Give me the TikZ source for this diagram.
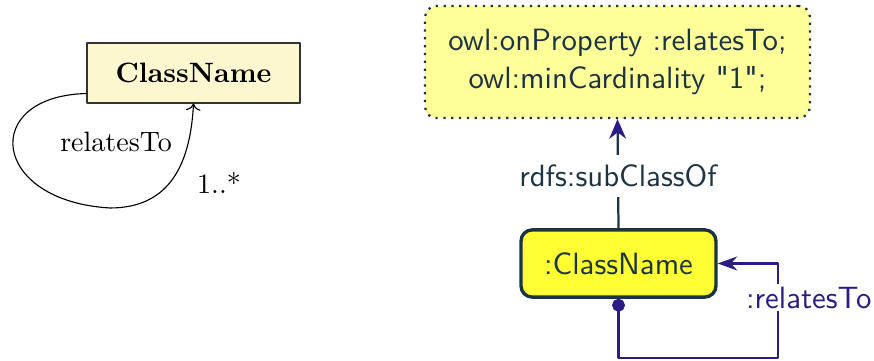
\documentclass[tikz,border=0pt]{standalone}
\usepackage{amsmath,amssymb}
\usepackage{fontspec}
\setsansfont{lmsans10-regular.otf}[Ligatures=TeXOff]
\usepackage{tikz}
\usetikzlibrary{arrows,arrows.meta,calc,positioning}
\definecolor{ink}{HTML}{1C3344}
\definecolor{rel}{HTML}{2C1A85}
\definecolor{pale}{HTML}{FDF7D0}
\definecolor{restr}{HTML}{FFFF99}
\definecolor{lemon}{HTML}{FFFF33}
\tikzset{umlcls/.style={draw=black!80,fill=pale,minimum width=76pt,minimum height=21.4pt,inner sep=0pt},
	restrbox/.style={draw=ink,dotted,thick,fill=restr,rounded corners=4pt,minimum width=137.4pt,minimum height=40pt,align=center,text=ink,font=\sffamily\fontsize{11}{13.6}\selectfont},
	clsbox/.style={draw=ink,very thick,fill=lemon,rounded corners=4pt,minimum width=69.6pt,minimum height=24pt,text=ink,font=\sffamily\fontsize{11}{13.6}\selectfont},
	lbl/.style={fill=white,font=\sffamily\fontsize{11}{13.6}\selectfont}}
\begin{document}
\begin{tikzpicture}[x=0.357pt,y=0.357pt,line join=round]
		\useasboundingbox (0,0) rectangle (874,361);
		% UML side
		\node[umlcls] (uml) at (193.5,288) {\textbf{ClassName}};
		\coordinate (U0) at ($(uml.south west)+(0,10)$);
		\coordinate (U1) at (110,153);
		\draw[->] (U0) .. controls (-20,265) and (-10,160) .. (U1) .. controls (165,153) and (190,190) .. (uml.south);
		\node (relU) at (116,219) {relatesTo};
		\node (mult) at (219,178) {1..*};
		% RDF side
		\node[restrbox] (R) at (617.5,299) {owl:onProperty :relatesTo;\\owl:minCardinality "1";};
		\node[clsbox] (C) at (618.5,97.5) {:ClassName};
		\draw[ink,thick,-{Stealth[length=7pt,width=6pt,color=rel]}] (C.north) -- node[lbl,text=ink,pos=0.48] (sub) {rdfs:subClassOf} (R.south);
		\coordinate (P2) at (778,3);
		\draw[rel,thick,{Circle[length=4.6pt]}-{Stealth[length=7pt,width=5pt]}] (C.south) -- (C.south |- P2) -- (P2) -- node[lbl,text=rel,pos=0.64,xshift=11pt,inner sep=1pt] (relR) {:relatesTo} (P2 |- C.east) -- (C.east);
		\end{tikzpicture}
\end{document}
